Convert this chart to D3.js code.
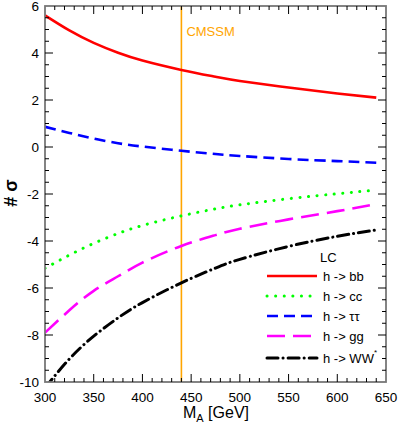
<!DOCTYPE html>
<html>
<head>
<meta charset="utf-8">
<script src="https://cdn.jsdelivr.net/npm/d3@7"></script>
<style>
  body { margin: 0; background: #fff; }
  text { font-family: "Liberation Sans", Arial, sans-serif; }
</style>
</head>
<body>
<svg id="chart" width="399" height="423"></svg>
<script>
// masses (GeV) where the curves were read
var masses = [300, 325, 350, 375, 400, 440, 475, 500, 550, 600, 640];
var sig_bb   = [5.6, 4.96, 4.43, 4.01, 3.68, 3.28, 2.99, 2.81, 2.53, 2.28, 2.1];
var sig_cc   = [-5.16, -4.6, -4.1, -3.68, -3.34, -2.93, -2.63, -2.46, -2.2, -1.99, -1.83];
var sig_tt   = [0.86, 0.6, 0.36, 0.16, 0.02, -0.16, -0.3, -0.38, -0.51, -0.6, -0.67];
var sig_gg   = [-7.9, -6.95, -6.12, -5.5, -4.92, -4.21, -3.75, -3.48, -3.08, -2.73, -2.43];
var sig_ww   = [-10.25, -9.02, -8.05, -7.27, -6.62, -5.78, -5.15, -4.78, -4.23, -3.8, -3.53];
var cmssm_mass = 440;
var xTicks = [300, 350, 400, 450, 500, 550, 600, 650];
var yTicks = [-10, -8, -6, -4, -2, 0, 2, 4, 6];

var series = [
  {name: 'h -> bb', vals: sig_bb, color: '#ff0000', dash: null, cap: 'butt'},
  {name: 'h -> cc', vals: sig_cc, color: '#00ff00', dash: '0.1,8.5', cap: 'round'},
  {name: 'h -> \u03c4\u03c4', vals: sig_tt, color: '#0000ff', dash: '11,6', cap: 'butt'},
  {name: 'h -> gg', vals: sig_gg, color: '#ff00ff', dash: '18,8', cap: 'butt'},
  {name: 'h -> WW', vals: sig_ww, color: '#000000', dash: '11,5,0.1,5', cap: 'round', star: true}
];

var svg = d3.select('#chart');
var pLeft = 45, pRight = 386, pTop = 6, pBottom = 382;

var x = d3.scaleLinear().domain([300, 650]).range([pLeft, pRight]);
var y = d3.scaleLinear().domain([-10, 6]).range([pBottom, pTop]);

svg.append('defs').append('clipPath').attr('id', 'plotclip')
  .append('rect').attr('x', pLeft).attr('y', pTop)
  .attr('width', pRight - pLeft).attr('height', pBottom - pTop);

// orange CMSSM line
svg.append('line')
  .attr('x1', x(cmssm_mass)).attr('x2', x(cmssm_mass))
  .attr('y1', y(6)).attr('y2', y(-10))
  .attr('stroke', '#ffa500').attr('stroke-width', 1.6);
svg.append('text')
  .attr('x', x(cmssm_mass) + 5).attr('y', 36)
  .attr('fill', '#ffa500').attr('font-size', 13)
  .text('CMSSM');

var line = d3.line()
  .x(function(d) { return x(d[0]); })
  .y(function(d) { return y(d[1]); })
  .curve(d3.curveNatural);

var plot = svg.append('g').attr('clip-path', 'url(#plotclip)');
series.forEach(function(s) {
  var pts = masses.map(function(m, i) { return [m, s.vals[i]]; });
  plot.append('path')
    .attr('d', line(pts))
    .attr('fill', 'none')
    .attr('stroke', s.color)
    .attr('stroke-width', s.cap == 'round' ? 3 : 2.6)
    .attr('stroke-linecap', s.cap)
    .attr('stroke-dasharray', s.dash);
});

// axes, ticks inward on all four sides
var axisColor = '#777';
svg.append('rect')
  .attr('x', pLeft).attr('y', pTop)
  .attr('width', pRight - pLeft).attr('height', pBottom - pTop)
  .attr('fill', 'none').attr('stroke', axisColor).attr('stroke-width', 1.8);

var xMinor = d3.range(300, 651, 10);
var yMinor = d3.range(-10, 6.01, 0.5);
var tickG = svg.append('g').attr('stroke', '#000').attr('stroke-width', 1);
xMinor.forEach(function(v) {
  var len = (v % 50 == 0) ? 8 : 4;
  if (v == 300 || v == 650) return;
  tickG.append('line').attr('x1', x(v)).attr('x2', x(v)).attr('y1', pBottom).attr('y2', pBottom - len);
  tickG.append('line').attr('x1', x(v)).attr('x2', x(v)).attr('y1', pTop).attr('y2', pTop + len);
});
yMinor.forEach(function(v) {
  var len = (Math.abs(v % 2) < 1e-6) ? 8 : 4;
  if (v == -10 || v == 6) return;
  tickG.append('line').attr('x1', pLeft).attr('x2', pLeft + len).attr('y1', y(v)).attr('y2', y(v));
  tickG.append('line').attr('x1', pRight).attr('x2', pRight - len).attr('y1', y(v)).attr('y2', y(v));
});

svg.selectAll('.xlab').data(xTicks).enter().append('text')
  .attr('class', 'xlab')
  .attr('x', function(d) { return x(d); })
  .attr('y', 402)
  .attr('text-anchor', 'middle')
  .attr('font-size', 13.5)
  .text(function(d) { return d; });

svg.selectAll('.ylab').data(yTicks).enter().append('text')
  .attr('class', 'ylab')
  .attr('x', 39)
  .attr('y', function(d) { return y(d) + 5; })
  .attr('text-anchor', 'end')
  .attr('font-size', 13.5)
  .text(function(d) { return d; });

// axis titles
var xt = svg.append('text')
  .attr('x', 216).attr('y', 418)
  .attr('text-anchor', 'middle').attr('font-size', 16);
xt.append('tspan').text('M');
xt.append('tspan').attr('font-size', 11).attr('dy', 4).text('A');
xt.append('tspan').attr('dy', -4).text(' [GeV]');

svg.append('text')
  .attr('transform', 'translate(17,193) rotate(-90)')
  .attr('text-anchor', 'middle')
  .attr('font-size', 18)
  .attr('font-weight', 'bold')
  .text('# \u03c3');

// legend
svg.append('text')
  .attr('x', 320).attr('y', 262)
  .attr('font-size', 13)
  .text('LC');
var legY = [276, 296, 316, 336, 358];
series.forEach(function(s, i) {
  svg.append('line')
    .attr('x1', 267).attr('x2', 317)
    .attr('y1', legY[i]).attr('y2', legY[i])
    .attr('stroke', s.color)
    .attr('stroke-width', s.cap == 'round' ? 3 : 2.6)
    .attr('stroke-linecap', s.cap)
    .attr('stroke-dasharray', s.dash);
  var t = svg.append('text')
    .attr('x', 323).attr('y', legY[i] + 5)
    .attr('font-size', 13)
    .text(s.name);
  if (s.star) {
    t.append('tspan').attr('font-size', 8).attr('dy', -8).text('*');
  }
});
</script>
</body>
</html>
